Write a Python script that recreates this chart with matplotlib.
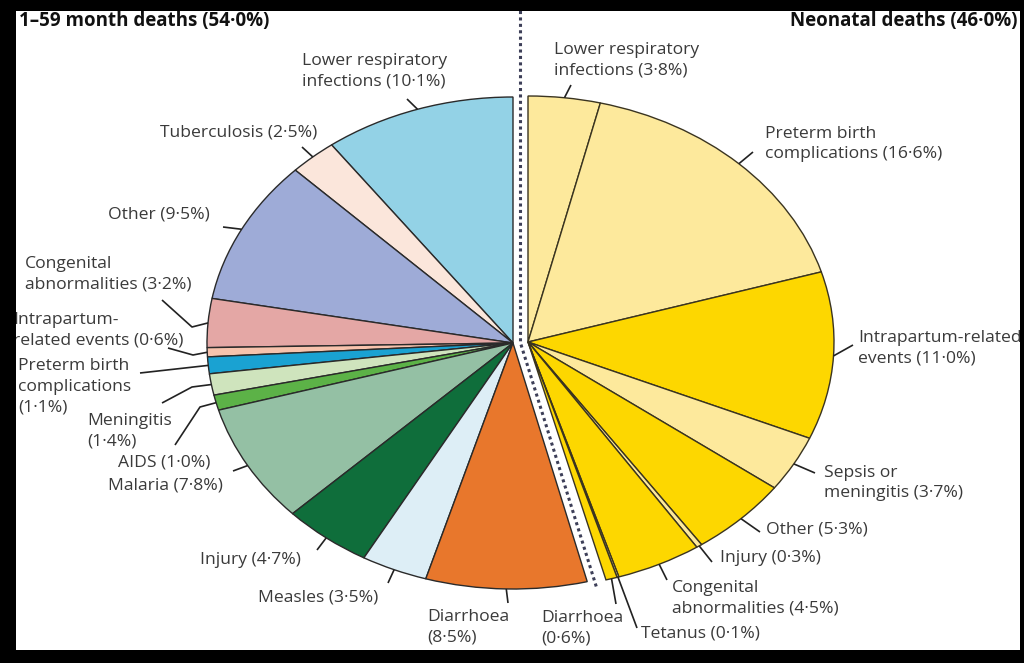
import matplotlib
matplotlib.use("Agg")
import matplotlib.pyplot as plt
from matplotlib.patches import Rectangle
import numpy as np

# ---------------- data ----------------
child_names = ["Lower respiratory\ninfections ({})", "Tuberculosis ({})", "Other ({})",
               "Congenital\nabnormalities ({})", "Intrapartum-\nrelated events ({})",
               "Preterm birth\ncomplications\n({})", "Meningitis\n({})", "AIDS ({})",
               "Malaria ({})", "Injury ({})", "Measles ({})", "Diarrhoea\n({})"]
child_values = [10.1, 2.5, 9.5, 3.2, 0.6, 1.1, 1.4, 1.0, 7.8, 4.7, 3.5, 8.5]
child_colors = ["#93d2e6", "#fbe6db", "#9eabd7", "#e4a7a5", "#f7c3ad", "#1aa2d2",
                "#cfe4bd", "#5cb247", "#94c0a4", "#0f6e3b", "#ddeef6", "#e8772c"]

neo_names = ["Lower respiratory\ninfections ({})", "Preterm birth\ncomplications ({})",
             "Intrapartum-related\nevents ({})", "Sepsis or\nmeningitis ({})", "Other ({})",
             "Injury ({})", "Congenital\nabnormalities ({})", "Tetanus ({})", "Diarrhoea\n({})"]
neo_values = [3.8, 16.6, 11.0, 3.7, 5.3, 0.3, 4.5, 0.1, 0.6]
neo_colors = ["#fde99c", "#fde99c", "#fdd700", "#fde99c", "#fdd700",
              "#fde99c", "#fdd700", "#fde99c", "#fdd700"]

child_title = "1–59 month deaths (54·0%)"
neo_title = "Neonatal deaths (46·0%)"

# ---------------- layout (pixels) ----------------
W, H = 1024, 663
CX, CY, RX, RY = 513, 343, 306, 246


def px2d(px, py):
    return ((px - CX) / RX, (CY - py) / RY)


# label text (left x, centre y), optional elbow, leader end
child_layout = [
    ((302, 71), None, (407, 99)),
    ((160, 132), None, (302, 147)),
    ((108, 214), None, (223, 227)),
    ((25, 274), (192, 327), (162, 300)),
    ((13, 330), (193, 355), (168, 348)),
    ((18, 387), None, (140, 373)),
    ((87, 431), (192, 387), (162, 403)),
    ((118, 462), (200, 407), (175, 445)),
    ((108, 486), None, (233, 471)),
    ((200, 560), None, (317, 550)),
    ((258, 597), None, (388, 583)),
    ((427, 627), None, (508, 603)),
]
neo_layout = [
    ((554, 60), None, (571, 85)),
    ((765, 144), None, (753, 152)),
    ((858, 348), None, (853, 345)),
    ((824, 483), None, (815, 473)),
    ((766, 530), None, (760, 532)),
    ((720, 558), None, (712, 562)),
    ((672, 598), None, (667, 580)),
    ((641, 633), None, (637, 628)),
    ((541, 628), None, (616, 604)),
]

FONT = "Open Sans"
TXT = "#3a3a3a"
FS = 12.6

fig = plt.figure(figsize=(W / 100, H / 100), dpi=100)
fig.patch.set_facecolor("white")
ax = fig.add_axes([0, 0, 1, 1])

wp = dict(edgecolor="#2a2a2a", linewidth=1.0)
cw, _ = ax.pie([v / 100 for v in child_values], colors=child_colors, startangle=90,
               counterclock=True, normalize=False, center=(0, 0), radius=1.0,
               wedgeprops=wp)
neo_center = px2d(528, 342)
nw, _ = ax.pie([v / 100 for v in neo_values], colors=neo_colors, startangle=90,
               counterclock=False, normalize=False, center=neo_center, radius=1.0,
               wedgeprops=dict(edgecolor="#3a3420", linewidth=1.0))

ax.set_aspect("auto")
ax.set_xlim(px2d(0, 0)[0], px2d(W, 0)[0])
ax.set_ylim(px2d(0, H)[1], px2d(0, 0)[1])
ax.axis("off")


def fmt(v):
    return f"{v:.1f}%".replace(".", "·")


def label_all(wedges, names, values, layout):
    for w, name, v, (tpos, elbow, end) in zip(wedges, names, values, layout):
        th = np.deg2rad((w.theta1 + w.theta2) / 2)
        cx, cy = w.center
        pts = [(cx + w.r * np.cos(th), cy + w.r * np.sin(th))]
        if elbow is not None:
            pts.append(px2d(*elbow))
        pts.append(px2d(*end))
        xs, ys = zip(*pts)
        ax.plot(xs, ys, color="#222222", lw=1.2, solid_capstyle="butt", zorder=3)
        tx, ty = px2d(*tpos)
        ax.text(tx, ty, name.format(fmt(v)), ha="left", va="center", fontsize=FS,
                family=FONT, color=TXT, linespacing=1.38, zorder=4)


label_all(cw, child_names, child_values, child_layout)
label_all(nw, neo_names, neo_values, neo_layout)

# dotted divider
split = np.deg2rad(90 + 360 * sum(child_values) / 100)
mx = neo_center[0] / 2
top = px2d(0, 11)[1]
ax.plot([mx, mx, mx + 1.03 * np.cos(split)], [top, 0, 1.03 * np.sin(split)],
        color="#3d3f58", lw=2.2, linestyle=(0, (1, 1.1)), zorder=5)

# titles
ax.text(*px2d(19, 21), child_title, ha="left", va="center", fontsize=13.5,
        fontweight="bold", family=FONT, color="#111111")
ax.text(*px2d(1018, 21), neo_title, ha="right", va="center", fontsize=13.5,
        fontweight="bold", family=FONT, color="#111111")

# black frame
for (x0, y0, w0, h0) in [(0, 0, 16, H), (0, 0, W, 11), (1020, 0, 4, H), (0, 650, W, 13)]:
    fig.add_artist(Rectangle((x0 / W, 1 - (y0 + h0) / H), w0 / W, h0 / H,
                             transform=fig.transFigure, facecolor="black",
                             edgecolor="none", zorder=10))

fig.savefig("out.png", dpi=100, facecolor="white")
